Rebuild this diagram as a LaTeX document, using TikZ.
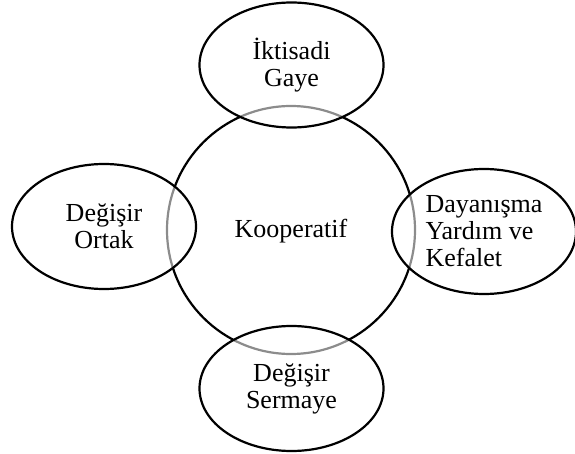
\documentclass[tikz,border=0pt]{standalone}
\usepackage{fontspec}
\setmainfont{Liberation Serif}
\usetikzlibrary{shapes.geometric}
\begin{document}
\begin{tikzpicture}[x=1pt,y=-1pt,
  ring/.style={circle,draw=black,line width=2.2pt,minimum size=248pt,inner sep=0pt},
  petal/.style={ellipse,draw=black,line width=2.2pt,fill=white,fill opacity=0.55,text opacity=1,
    inner sep=0pt,minimum width=184pt,minimum height=125pt,
    font=\fontsize{26}{27}\selectfont},
  core/.style={font=\fontsize{26}{27}\selectfont,inner sep=0pt}]
  \useasboundingbox (0,0) rectangle (575,454);
  % central circle
  \node[ring] (coop) at (291,230) {};
  \node[core] (cooptext) at (291,231) {Kooperatif};
  % four surrounding ellipses
  \node[petal,align=center] (gaye) at (291.5,65) {İktisadi\\Gaye};
  \node[petal,align=center] (ortak) at (104,226.5) {Değişir\\Ortak};
  \node[petal,align=left] (dayan) at (484,231.5) {Dayanışma\\Yardım ve\\Kefalet};
  \node[petal,align=center] (sermaye) at (291.5,388.5) {Değişir\\Sermaye};
\end{tikzpicture}
\end{document}
